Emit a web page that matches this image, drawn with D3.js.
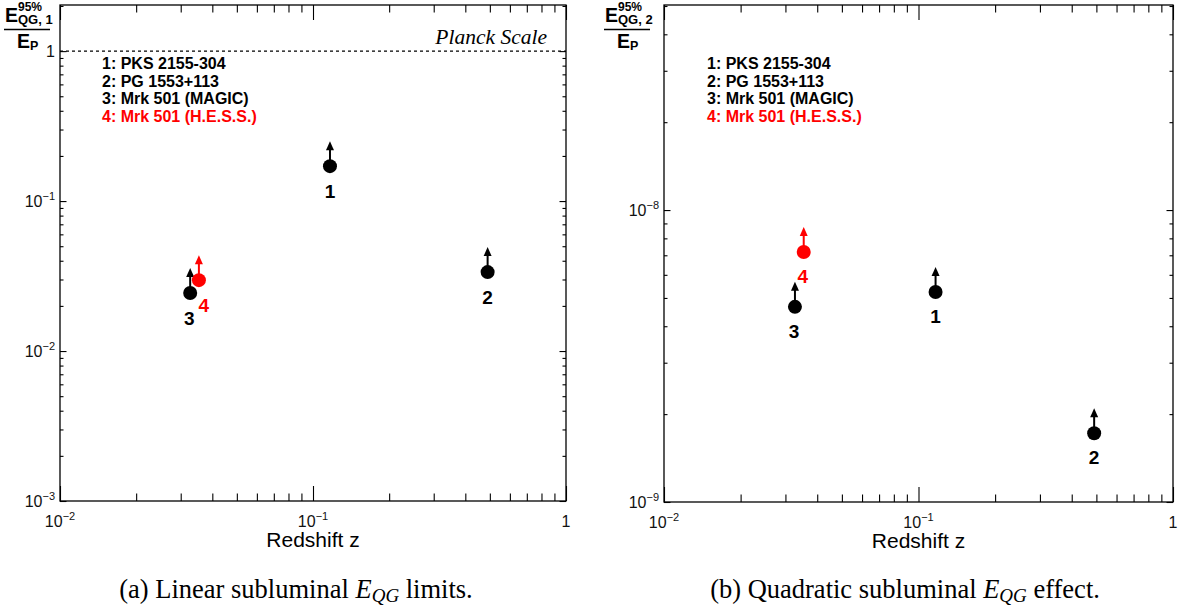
<!DOCTYPE html>
<html>
<head>
<meta charset="utf-8">
<script src="https://cdn.jsdelivr.net/npm/d3@7"></script>
<style>
  body { margin: 0; background: #fff; }
  text { font-family: "Liberation Sans", Arial, sans-serif; }
</style>
</head>
<body>
<script>
// Source names and redshifts
var sources = ["PKS 2155-304", "PG 1553+113", "Mrk 501 (MAGIC)", "Mrk 501 (H.E.S.S.)"];
var sourceIds = ["1", "2", "3", "4"];
var redshift = [0.1167, 0.49, 0.0327, 0.0354];

// 95% lower limits on E_QG / E_P
var limitLinear = [0.171, 0.0336, 0.0244, 0.0297];
var limitQuadratic = [5.24e-9, 1.72e-9, 4.66e-9, 7.18e-9];

// tick values
var xMajor = [0.01, 0.1, 1];
var yMajorLinear = [0.001, 0.01, 0.1, 1];
var yMajorQuadratic = [1e-9, 1e-8];

var svg = d3.select("body").append("svg")
  .attr("width", 1184)
  .attr("height", 612);

function minorTicks(lo, hi) {
  var out = [];
  for (var d = Math.floor(Math.log10(lo)); d < Math.ceil(Math.log10(hi)); d++) {
    for (var k = 2; k <= 9; k++) {
      var v = k * Math.pow(10, d);
      if (v > lo * 1.0001 && v < hi * 0.9999) out.push(v);
    }
  }
  return out;
}

// label like 10^-2, or plain 1
function powLabel(sel, v) {
  var e = Math.round(Math.log10(v));
  if (e === 0) { sel.text("1"); return; }
  sel.append("tspan").text("10");
  sel.append("tspan").attr("dy", -7).attr("font-size", 11).text("\u2212" + Math.abs(e));
}

function drawPanel(p) {
  var g = svg.append("g");
  var x = d3.scaleLog().domain([0.01, 1]).range([p.left, p.right]);
  var y = d3.scaleLog().domain(p.yDomain).range([p.bottom, p.top]);
  var xMinor = minorTicks(0.01, 1);
  var yMinor = minorTicks(p.yDomain[0], p.yDomain[1]);

  // frame
  g.append("rect")
    .attr("x", p.left).attr("y", p.top)
    .attr("width", p.right - p.left).attr("height", p.bottom - p.top)
    .attr("fill", "none").attr("stroke", "#000").attr("stroke-width", 1.3);

  function tickAxis(axisFn, scale, vals, len, transform) {
    var a = g.append("g").attr("transform", transform)
      .call(axisFn(scale).tickValues(vals).tickSize(len).tickFormat(""));
    a.select(".domain").remove();
    a.selectAll("line").attr("stroke", "#000").attr("stroke-width", 1.1);
  }
  // x ticks, inward on bottom and top
  tickAxis(d3.axisBottom, x, xMajor, -15, "translate(0," + p.bottom + ")");
  tickAxis(d3.axisBottom, x, xMinor, -7.5, "translate(0," + p.bottom + ")");
  tickAxis(d3.axisTop, x, xMajor, -15, "translate(0," + p.top + ")");
  tickAxis(d3.axisTop, x, xMinor, -7.5, "translate(0," + p.top + ")");
  // y ticks, inward on left and right
  tickAxis(d3.axisLeft, y, p.yMajor, -6.5, "translate(" + p.left + ",0)");
  tickAxis(d3.axisLeft, y, yMinor, -3.5, "translate(" + p.left + ",0)");
  tickAxis(d3.axisRight, y, p.yMajor, -6.5, "translate(" + p.right + ",0)");
  tickAxis(d3.axisRight, y, yMinor, -3.5, "translate(" + p.right + ",0)");

  // x tick labels
  xMajor.forEach(function(v) {
    var t = g.append("text")
      .attr("x", x(v)).attr("y", p.bottom + 26)
      .attr("text-anchor", "middle").attr("font-size", 16).attr("fill", "#111");
    powLabel(t, v);
  });
  // y tick labels
  p.yMajor.forEach(function(v) {
    var t = g.append("text")
      .attr("x", p.left - 5).attr("y", y(v) + 6)
      .attr("text-anchor", "end").attr("font-size", 16).attr("fill", "#111");
    powLabel(t, v);
  });

  // x title
  g.append("text")
    .attr("x", (p.left + p.right) / 2).attr("y", p.bottom + 46)
    .attr("text-anchor", "middle").attr("font-size", 21).attr("fill", "#000")
    .text("Redshift z");

  // y title as a fraction
  var yt = g.append("g").attr("font-weight", "bold").attr("fill", "#000");
  yt.append("text").attr("x", p.titleX).attr("y", 22).attr("font-size", 19.5).text("E");
  yt.append("text").attr("x", p.titleX + 13).attr("y", 11).attr("font-size", 12).text("95%");
  yt.append("text").attr("x", p.titleX + 13).attr("y", 24).attr("font-size", 13).text("QG, " + p.order);
  yt.append("line")
    .attr("x1", p.titleX - 1).attr("x2", p.titleX + 45)
    .attr("y1", 29.5).attr("y2", 29.5)
    .attr("stroke", "#000").attr("stroke-width", 1.3);
  yt.append("text").attr("x", p.titleX + 12).attr("y", 48).attr("font-size", 19.5).text("E");
  yt.append("text").attr("x", p.titleX + 25).attr("y", 50).attr("font-size", 12.5).text("P");

  // Planck line
  if (p.planck) {
    g.append("line")
      .attr("x1", p.left).attr("x2", p.right)
      .attr("y1", y(1)).attr("y2", y(1))
      .attr("stroke", "#000").attr("stroke-width", 1.3)
      .attr("stroke-dasharray", "3,3");
    g.append("text")
      .attr("x", p.right - 19).attr("y", y(1) - 7)
      .attr("text-anchor", "end")
      .style("font-family", "'Liberation Serif', 'Times New Roman', serif")
      .attr("font-style", "italic").attr("font-size", 21.5)
      .text("Planck Scale");
  }

  // legend
  sources.forEach(function(s, i) {
    g.append("text")
      .attr("x", p.legendX).attr("y", 69 + i * 17.5)
      .attr("font-size", 16).attr("font-weight", "bold")
      .attr("fill", i === 3 ? "#f00" : "#000")
      .text(sourceIds[i] + ": " + s);
  });

  // points with upward arrows
  p.values.forEach(function(v, i) {
    var cx = x(redshift[i]), cy = y(v);
    var col = i === 3 ? "#f00" : "#000";
    g.append("line")
      .attr("x1", cx).attr("x2", cx).attr("y1", cy).attr("y2", cy - 18)
      .attr("stroke", col).attr("stroke-width", 2);
    g.append("path")
      .attr("d", "M" + (cx - 4) + "," + (cy - 16) + "L" + cx + "," + (cy - 25) + "L" + (cx + 4) + "," + (cy - 16) + "Z")
      .attr("fill", col);
    g.append("circle").attr("cx", cx).attr("cy", cy).attr("r", 7).attr("fill", col);
    g.append("text")
      .attr("x", cx + p.labelOff[i][0]).attr("y", cy + p.labelOff[i][1])
      .attr("text-anchor", "middle").attr("font-size", 19).attr("font-weight", "bold")
      .attr("fill", col).text(sourceIds[i]);
  });

  // caption
  var cap = svg.append("text")
    .attr("x", p.captionX).attr("y", 598)
    .attr("text-anchor", "middle")
    .style("font-family", "'Liberation Serif', 'Times New Roman', serif")
    .attr("font-size", 26.5).attr("fill", "#000");
  cap.append("tspan").text(p.captionA + " ");
  cap.append("tspan").attr("font-style", "italic").text("E");
  cap.append("tspan").attr("font-style", "italic").attr("font-size", 19).attr("dy", 4).text("QG");
  cap.append("tspan").attr("dy", -4).text(" " + p.captionB);
}

drawPanel({
  left: 60, right: 566, top: 5, bottom: 501,
  yDomain: [0.001, 2.03], yMajor: yMajorLinear, order: 1,
  titleX: 5, legendX: 102, planck: true,
  values: limitLinear,
  labelOff: [[0, 32], [0, 32], [-1, 32], [5, 32]],
  captionX: 296, captionA: "(a) Linear subluminal", captionB: "limits."
});

drawPanel({
  left: 664, right: 1173, top: 5, bottom: 502,
  yDomain: [1e-9, 5.04e-8], yMajor: yMajorQuadratic, order: 2,
  titleX: 605, legendX: 707, planck: false,
  values: limitQuadratic,
  labelOff: [[0, 31], [0, 31], [-1, 31], [-1, 31]],
  captionX: 905, captionA: "(b) Quadratic subluminal", captionB: "effect."
});
</script>
</body>
</html>
